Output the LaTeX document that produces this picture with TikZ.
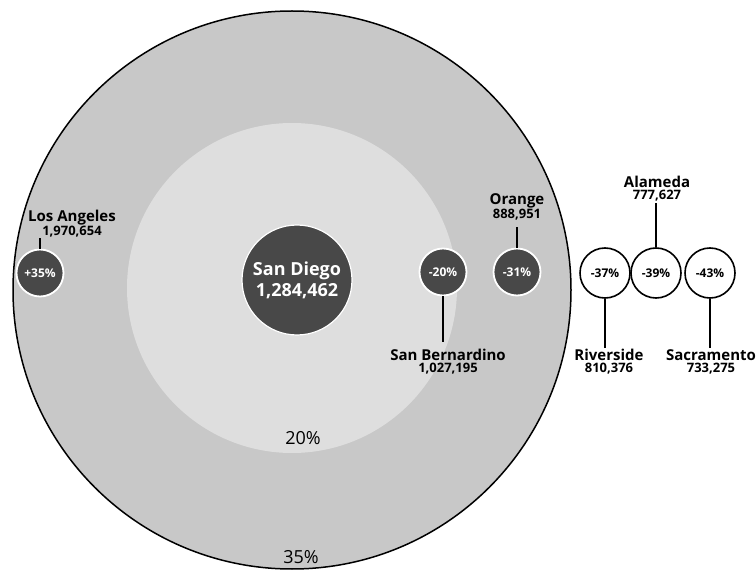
\documentclass[tikz,border=0pt]{standalone}
\usepackage{fontspec}
\setmainfont{Open Sans}
\definecolor{outergray}{RGB}{200,200,200}
\definecolor{innergray}{RGB}{222,222,222}
\definecolor{darkdot}{RGB}{72,72,72}
\tikzset{
  ring/.style={circle, inner sep=0pt},
  darkcity/.style={circle, inner sep=0pt, minimum size=47pt, fill=darkdot, draw=white, line width=1.8pt, text=white, font=\fontsize{12}{13}\selectfont\bfseries},
  whitecity/.style={circle, inner sep=0pt, minimum size=50pt, fill=white, draw=black, line width=1.6pt, text=black, font=\fontsize{12}{13}\selectfont\bfseries},
  citylabel/.style={align=center, inner sep=0pt, text=black},
  tick/.style={line width=2.6pt, black},
  pct/.style={font=\fontsize{18}{20}\selectfont, text=black, inner sep=0pt}
}
\newcommand{\nm}[1]{{\fontsize{15}{16}\selectfont\bfseries #1}}
\newcommand{\nb}[1]{{\fontsize{13}{16}\selectfont\bfseries #1}}
\begin{document}
\begin{tikzpicture}[x=1pt,y=-1pt]
\useasboundingbox (0,0) rectangle (756,572);
\fill[white] (0,0) rectangle (756,572);
% rings
\node[ring, fill=outergray, draw=black, line width=1.5pt, minimum size=558pt] (outer) at (292,290) {};
\node[ring, fill=innergray, minimum size=330pt] (inner) at (292,288) {};
\node[pct] (p20) at (303,438) {20\%};
\node[pct] (p35) at (301,557) {35\%};
% San Diego
\node[circle, inner sep=0pt, minimum size=110pt, fill=darkdot, draw=white, line width=1.2pt, text=white, align=center, font=\fontsize{18}{21}\selectfont\bfseries] (sd) at (297,280) {San Diego\\1,284,462};
% dark cities
\node[darkcity] (la) at (40,273) {+35\%};
\node[darkcity] (sb) at (443,272) {-20\%};
\node[darkcity] (or) at (517,272) {-31\%};
% white cities
\node[whitecity] (rv) at (605,273) {-37\%};
\node[whitecity] (al) at (656,273) {-39\%};
\node[whitecity] (sc) at (710,273) {-43\%};
% labels
\node[citylabel, anchor=south] (lalab) at (72,237) {\nm{Los Angeles}\\\nb{1,970,654}};
\node[citylabel, anchor=south] (orlab) at (517,220) {\nm{Orange}\\\nb{888,951}};
\node[citylabel, anchor=north] (sblab) at (448,349) {\nm{San Bernardino}\\\nb{1,027,195}};
\node[citylabel, anchor=south] (allab) at (657,201) {\nm{Alameda}\\\nb{777,627}};
\node[citylabel, anchor=north] (rvlab) at (609,349) {\nm{Riverside}\\\nb{810,376}};
\node[citylabel, anchor=north] (sclab) at (711,349) {\nm{Sacramento}\\\nb{733,275}};
% connectors
\draw[tick] (la.north) -- ([yshift=-1pt]la.north |- lalab.south);
\draw[tick] (or.north) -- ([yshift=-7pt]or.north |- orlab.south);
\draw[tick] (sb.south) -- ([yshift=7pt]sb.south |- sblab.north);
\draw[tick] (al.north) -- ([yshift=-2pt]al.north |- allab.south);
\draw[tick] (rv.south) -- ([yshift=1pt]rv.south |- rvlab.north);
\draw[tick] (sc.south) -- ([yshift=1pt]sc.south |- sclab.north);
\end{tikzpicture}
\end{document}
